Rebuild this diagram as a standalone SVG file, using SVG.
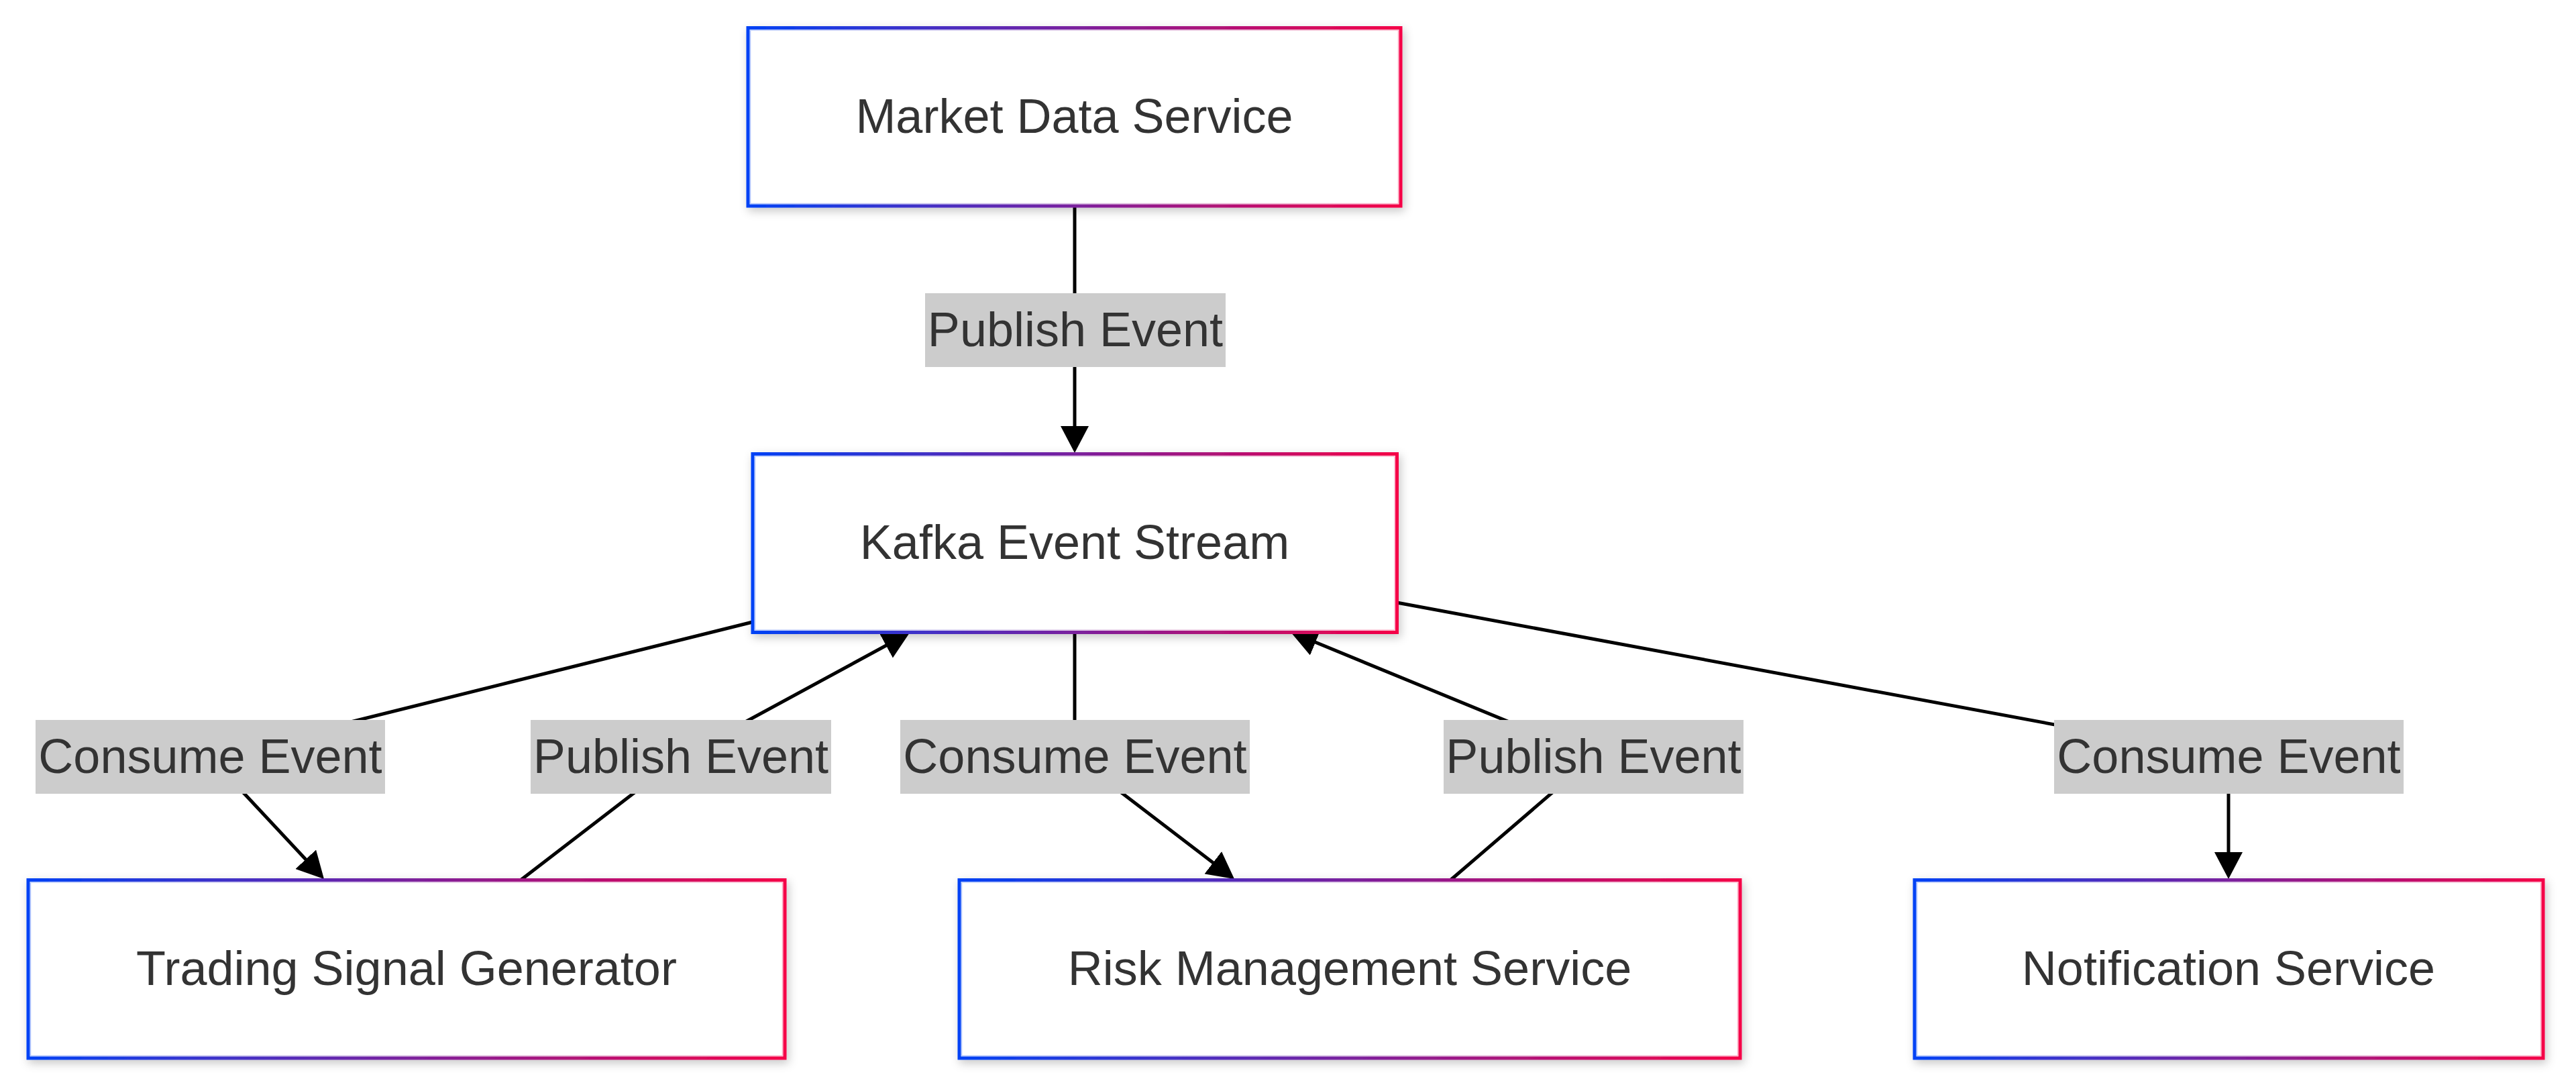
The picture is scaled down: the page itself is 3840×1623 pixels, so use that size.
<svg xmlns="http://www.w3.org/2000/svg" width="3840" height="1623" viewBox="0 0 3840 1623">
<defs>
<linearGradient id="bg" x1="0" y1="0" x2="1" y2="0">
<stop offset="0" stop-color="#0042f5"/>
<stop offset="1" stop-color="#f50047"/>
</linearGradient>
<filter id="sh" x="-5%" y="-10%" width="110%" height="125%">
<feDropShadow dx="3" dy="5" stdDeviation="7" flood-color="#000" flood-opacity="0.22"/>
</filter>
<marker id="arr" viewBox="0 0 40 42" refX="30" refY="21" markerWidth="40" markerHeight="42" markerUnits="userSpaceOnUse" orient="auto">
<path d="M0,0 L40,21 L0,42 z" fill="#000"/>
</marker>
<style>
.edge{fill:none;stroke:#000;stroke-width:5;stroke-linejoin:round}
.box{fill:#fff;stroke:url(#bg);stroke-width:5;filter:url(#sh)}
.inner{fill:none;stroke:url(#bg);stroke-width:1.5;stroke-opacity:0.3}
.nt{font-family:"Liberation Sans",Arial,sans-serif;font-size:72px;fill:#333;text-anchor:middle}
.lb{fill:#ccc}
</style>
</defs>
<rect width="3840" height="1623" fill="#fff"/>
<g id="connectors">
<path class="edge" d="M1602,309 L1602,665" marker-end="url(#arr)"/>
<path class="edge" d="M1122,927 L313,1128 L476.2,1302.7" marker-end="url(#arr)"/>
<path class="edge" d="M777,1311 L1015,1128 L1347.2,947.8" marker-end="url(#arr)"/>
<path class="edge" d="M1602,943 L1602,1128 L1832.1,1303.9" marker-end="url(#arr)"/>
<path class="edge" d="M2163,1311 L2376,1128 L1933.2,945.8" marker-end="url(#arr)"/>
<path class="edge" d="M2082,898 L3322,1128 L3322,1300" marker-end="url(#arr)"/>
</g>
<g id="node-market">
<rect class="box" x="1115" y="41.5" width="973" height="265.5"/>
<rect class="inner" x="1118.5" y="45" width="966" height="258.5"/>
<text class="nt" x="1601.5" y="198">Market Data Service</text>
</g>
<g id="node-kafka">
<rect class="box" x="1122" y="676.5" width="960.5" height="266"/>
<rect class="inner" x="1125.5" y="680" width="953.5" height="259"/>
<text class="nt" x="1602" y="833">Kafka Event Stream</text>
</g>
<g id="node-trading">
<rect class="box" x="42" y="1311.5" width="1128" height="265.5"/>
<rect class="inner" x="45.5" y="1315" width="1121" height="258.5"/>
<text class="nt" x="606" y="1468">Trading Signal Generator</text>
</g>
<g id="node-risk">
<rect class="box" x="1430" y="1311.5" width="1164" height="265.5"/>
<rect class="inner" x="1433.5" y="1315" width="1157" height="258.5"/>
<text class="nt" x="2012" y="1468">Risk Management Service</text>
</g>
<g id="node-notification">
<rect class="box" x="2854" y="1311.5" width="937" height="265.5"/>
<rect class="inner" x="2857.5" y="1315" width="930" height="258.5"/>
<text class="nt" x="3322" y="1468">Notification Service</text>
</g>
<g id="edge-labels">
<g id="label-pub-top"><rect class="lb" x="1379" y="437" width="448" height="110"/><text class="nt" x="1603" y="516">Publish Event</text></g>
<g id="label-con-1"><rect class="lb" x="53" y="1073" width="521" height="110"/><text class="nt" x="313.5" y="1152">Consume Event</text></g>
<g id="label-pub-1"><rect class="lb" x="791" y="1073" width="448" height="110"/><text class="nt" x="1015" y="1152">Publish Event</text></g>
<g id="label-con-2"><rect class="lb" x="1342" y="1073" width="521" height="110"/><text class="nt" x="1602.5" y="1152">Consume Event</text></g>
<g id="label-pub-2"><rect class="lb" x="2152" y="1073" width="447" height="110"/><text class="nt" x="2375.5" y="1152">Publish Event</text></g>
<g id="label-con-3"><rect class="lb" x="3062" y="1073" width="521" height="110"/><text class="nt" x="3322.5" y="1152">Consume Event</text></g>
</g>
</svg>
